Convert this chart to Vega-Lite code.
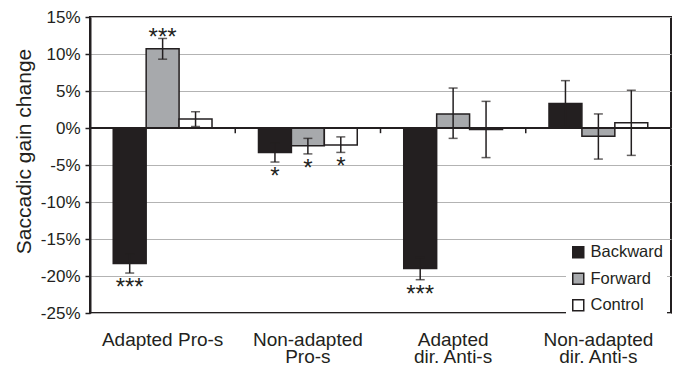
{
  "$schema": "https://vega.github.io/schema/vega-lite/v6.json",
  "autosize": "none",
  "padding": {"left": 90, "top": 17, "right": 8, "bottom": 55},
  "width": 581,
  "height": 296,
  "config": {
    "font": "Liberation Sans",
    "view": {"stroke": "#231f20", "strokeWidth": 2},
    "axis": {"labelColor": "#231f20", "titleColor": "#231f20"}
  },
  "data": {
    "values": [
      {"group": "Adapted Pro-s", "dir": "Backward", "value": -18.3, "lo": -19.6, "hi": -17.0, "sig": "***"},
      {"group": "Adapted Pro-s", "dir": "Forward", "value": 10.7, "lo": 9.3, "hi": 12.1, "sig": "***"},
      {"group": "Adapted Pro-s", "dir": "Control", "value": 1.2, "lo": 0.2, "hi": 2.2, "sig": ""},
      {"group": "Non-adapted Pro-s", "dir": "Backward", "value": -3.3, "lo": -4.6, "hi": -2.0, "sig": "*"},
      {"group": "Non-adapted Pro-s", "dir": "Forward", "value": -2.4, "lo": -3.5, "hi": -1.4, "sig": "*"},
      {"group": "Non-adapted Pro-s", "dir": "Control", "value": -2.3, "lo": -3.3, "hi": -1.2, "sig": "*"},
      {"group": "Adapted dir. Anti-s", "dir": "Backward", "value": -19.0, "lo": -20.5, "hi": -17.5, "sig": "***"},
      {"group": "Adapted dir. Anti-s", "dir": "Forward", "value": 1.9, "lo": -1.4, "hi": 5.4, "sig": ""},
      {"group": "Adapted dir. Anti-s", "dir": "Control", "value": -0.2, "lo": -4.0, "hi": 3.6, "sig": ""},
      {"group": "Non-adapted dir. Anti-s", "dir": "Backward", "value": 3.3, "lo": 0.2, "hi": 6.4, "sig": ""},
      {"group": "Non-adapted dir. Anti-s", "dir": "Forward", "value": -1.1, "lo": -4.2, "hi": 1.9, "sig": ""},
      {"group": "Non-adapted dir. Anti-s", "dir": "Control", "value": 0.7, "lo": -3.7, "hi": 5.1, "sig": ""}
    ]
  },
  "resolve": {"scale": {"x": "independent"}, "axis": {"x": "independent"}},
  "layer": [
    {
      "layer": [
        {
          "mark": {"type": "bar", "stroke": "#231f20", "strokeWidth": 1.5},
          "encoding": {
            "x": {
              "field": "group", "type": "nominal",
              "sort": ["Adapted Pro-s", "Non-adapted Pro-s", "Adapted dir. Anti-s", "Non-adapted dir. Anti-s"],
              "scale": {"paddingInner": 0.32, "paddingOuter": 0.16},
              "axis": {
                "title": null, "domain": false, "ticks": false, "grid": false,
                "labelAngle": 0, "labelFontSize": 19, "labelPadding": 17, "labelBaseline": "top",
                "labelLineHeight": 17,
                "labelExpr": "datum.value == 'Adapted Pro-s' ? datum.value : [slice(datum.value, 0, indexof(datum.value, ' ')), slice(datum.value, indexof(datum.value, ' ') + 1)]"
              }
            },
            "xOffset": {
              "field": "dir", "type": "nominal",
              "sort": ["Backward", "Forward", "Control"],
              "scale": {"paddingInner": 0, "paddingOuter": 0}
            },
            "y": {
              "field": "value", "type": "quantitative",
              "scale": {"domain": [-25, 15], "nice": false, "zero": false},
              "axis": {
                "title": "Saccadic gain change", "titleFontSize": 21, "titleFontWeight": "normal", "titlePadding": 6, "titleY": 134,
                "values": [-25, -20, -15, -10, -5, 0, 5, 10, 15], "tickCount": 12, "labelOverlap": false,
                "labelExpr": "datum.value + '%'", "labelFontSize": 17, "labelPadding": 5,
                "domainColor": "#231f20", "domainWidth": 2,
                "tickColor": "#231f20", "tickWidth": 1.5, "tickSize": 5,
                "grid": true, "gridColor": "#b3b3b3", "gridWidth": 1
              }
            },
            "fill": {
              "field": "dir", "type": "nominal",
              "sort": ["Backward", "Forward", "Control"],
              "scale": {"domain": ["Backward", "Forward", "Control"], "range": ["#231f20", "#a7a9ac", "#ffffff"]},
              "legend": {
                "title": null, "orient": "none", "legendX": 476, "legendY": 223,
                "fillColor": "white", "padding": 4,
                "symbolType": "square", "symbolSize": 121,
                "symbolStrokeColor": "#231f20", "symbolStrokeWidth": 1.5,
                "labelFontSize": 16.5, "labelColor": "#231f20", "labelOffset": 4, "rowPadding": 8.5
              }
            }
          }
        },
        {
          "mark": {"type": "rule", "color": "#231f20", "strokeWidth": 2},
          "encoding": {"y": {"datum": 0}}
        },
        {
          "mark": {"type": "rule", "color": "#231f20", "strokeWidth": 1.5},
          "encoding": {
            "x": {"field": "group", "type": "nominal", "sort": ["Adapted Pro-s", "Non-adapted Pro-s", "Adapted dir. Anti-s", "Non-adapted dir. Anti-s"]},
            "xOffset": {"field": "dir", "type": "nominal", "sort": ["Backward", "Forward", "Control"]},
            "y": {"field": "lo", "type": "quantitative"},
            "y2": {"field": "hi"}
          }
        },
        {
          "mark": {"type": "tick", "color": "#231f20", "thickness": 1.5, "size": 9},
          "encoding": {
            "x": {"field": "group", "type": "nominal", "sort": ["Adapted Pro-s", "Non-adapted Pro-s", "Adapted dir. Anti-s", "Non-adapted dir. Anti-s"]},
            "xOffset": {"field": "dir", "type": "nominal", "sort": ["Backward", "Forward", "Control"]},
            "y": {"field": "lo", "type": "quantitative"}
          }
        },
        {
          "mark": {"type": "tick", "color": "#231f20", "thickness": 1.5, "size": 9},
          "encoding": {
            "x": {"field": "group", "type": "nominal", "sort": ["Adapted Pro-s", "Non-adapted Pro-s", "Adapted dir. Anti-s", "Non-adapted dir. Anti-s"]},
            "xOffset": {"field": "dir", "type": "nominal", "sort": ["Backward", "Forward", "Control"]},
            "y": {"field": "hi", "type": "quantitative"}
          }
        },
        {
          "transform": [{"filter": "datum.sig != '' && datum.value < 0"}],
          "mark": {"type": "text", "color": "#231f20", "fontSize": 24, "baseline": "alphabetic", "dy": 22},
          "encoding": {
            "x": {"field": "group", "type": "nominal", "sort": ["Adapted Pro-s", "Non-adapted Pro-s", "Adapted dir. Anti-s", "Non-adapted dir. Anti-s"]},
            "xOffset": {"field": "dir", "type": "nominal", "sort": ["Backward", "Forward", "Control"]},
            "y": {"field": "lo", "type": "quantitative"},
            "text": {"field": "sig"}
          }
        },
        {
          "transform": [{"filter": "datum.sig != '' && datum.value > 0"}],
          "mark": {"type": "text", "color": "#231f20", "fontSize": 24, "baseline": "alphabetic", "dy": 7},
          "encoding": {
            "x": {"field": "group", "type": "nominal", "sort": ["Adapted Pro-s", "Non-adapted Pro-s", "Adapted dir. Anti-s", "Non-adapted dir. Anti-s"]},
            "xOffset": {"field": "dir", "type": "nominal", "sort": ["Backward", "Forward", "Control"]},
            "y": {"field": "hi", "type": "quantitative"},
            "text": {"field": "sig"}
          }
        }
      ]
    },
    {
      "transform": [{"filter": "datum.dir == 'Backward' && datum.group != 'Adapted Pro-s'"}],
      "mark": {"type": "rule", "color": "#231f20", "strokeWidth": 1.5},
      "encoding": {
        "x": {
          "field": "group", "type": "nominal", "bandPosition": 0,
          "sort": ["Adapted Pro-s", "Non-adapted Pro-s", "Adapted dir. Anti-s", "Non-adapted dir. Anti-s"],
          "scale": {"domain": ["Adapted Pro-s", "Non-adapted Pro-s", "Adapted dir. Anti-s", "Non-adapted dir. Anti-s"], "paddingInner": 0, "paddingOuter": 0},
          "axis": null
        },
        "y": {"datum": 0},
        "y2": {"datum": -0.7}
      }
    }
  ]
}
